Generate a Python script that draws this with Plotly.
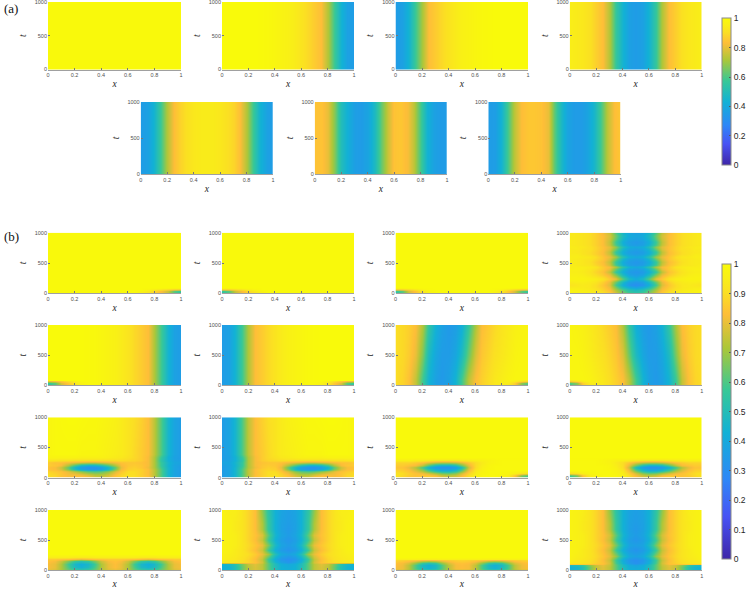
import plotly.graph_objects as go

W, H = 747, 589
x_grid = [i / 20 for i in range(21)]
x_ticks = [0, 0.2, 0.4, 0.6, 0.8, 1]
x_ticktext = ["0", "0.2", "0.4", "0.6", "0.8", "1"]
t_ticks = [0, 500, 1000]
t_ticktext = ["0", "500", "1000"]
cb_a_ticks = [0, 0.2, 0.4, 0.6, 0.8, 1]
cb_a_text = ["0", "0.2", "0.4", "0.6", "0.8", "1"]
cb_b_ticks = [0, 0.1, 0.2, 0.3, 0.4, 0.5, 0.6, 0.7, 0.8, 0.9, 1]
cb_b_text = ["0", "0.1", "0.2", "0.3", "0.4", "0.5", "0.6", "0.7", "0.8", "0.9", "1"]

parula = [[0, "rgb(62,38,168)"], [1/7, "rgb(72,82,244)"], [0.27, "rgb(46,135,247)"],
          [3/7, "rgb(18,177,214)"], [4/7, "rgb(55,200,151)"], [5/7, "rgb(171,199,57)"],
          [0.83, "rgb(254,190,56)"], [0.9, "rgb(251,222,36)"], [0.95, "rgb(249,238,24)"],
          [1, "rgb(249,250,10)"]]

# ---- values; rows are x = 0 ... 1 in steps of 0.05 ----
t_steady = [0, 1000]
flat = [0.995] * 21
a2 = [1, 1, 1, 1, 1, 1, .995, .99, .98, .97, .96, .94, .92, .89, .86, .83, .72, .58, .44, .37, .35]
a4 = [.95, .94, .93, .91, .87, .83, .72, .56, .44, .37, .35, .37, .44, .56, .72, .83, .87, .91, .93, .94, .95]
a5 = [.35, .37, .44, .58, .72, .83, .88, .91, .93, .94, .94, .94, .93, .91, .88, .83, .72, .58, .44, .37, .35]
a6 = [.84, .84, .80, .66, .50, .42, .36, .35, .38, .48, .62, .76, .84, .85, .82, .74, .58, .44, .37, .35, .35]
a7 = [.35, .36, .44, .60, .74, .83, .85, .85, .84, .80, .62, .47, .38, .35, .35, .38, .46, .60, .74, .83, .85]

t_corner = [0, 40, 65, 90, 1000]
b1 = [[.995]*14 + [.96, .92, .87, .82, .74, .60, .54],
      [.995]*14 + [.97, .94, .89, .83, .76, .62, .56],
      [.995]*15 + [.97, .94, .90, .86, .82, .80],
      flat, flat]
b3 = [[.54, .60, .76, .85, .92, .97] + [.995]*9 + [.97, .92, .85, .76, .60, .54],
      [.56, .62, .78, .85, .93, .97] + [.995]*9 + [.97, .93, .85, .78, .62, .56],
      [.80, .82, .86, .91, .96, .99] + [.995]*9 + [.99, .96, .91, .86, .82, .80],
      flat, flat]
b5 = [[.54, .60, .76, .85, .92, .97, .99, .99, .98, .97, .96, .94, .92, .89, .86, .83, .72, .58, .44, .37, .35],
      [.56, .62, .78, .85, .93, .97, .99, .99, .98, .97, .96, .94, .92, .89, .86, .83, .72, .58, .44, .37, .35],
      [.80, .82, .86, .91, .96, .99, .99, .99, .98, .97, .96, .94, .92, .89, .86, .83, .72, .58, .44, .37, .35],
      a2, a2]

t_b7 = [0, 40, 70, 100, 500, 1000]
b7_low = [.90, .88, .84, .75, .58, .44, .37, .34, .37, .44, .58, .74, .83, .87, .90, .93, .95, .97, .98, .98, .98]
b7 = [[.90, .88, .84, .75, .58, .44, .37, .34, .37, .44, .58, .74, .83, .87, .90, .93, .95, .94, .86, .66, .58],
      [.90, .88, .84, .75, .58, .44, .37, .34, .37, .44, .58, .74, .83, .87, .90, .93, .95, .94, .87, .68, .60],
      [.90, .88, .84, .75, .58, .44, .37, .34, .37, .44, .58, .74, .83, .87, .90, .93, .95, .96, .94, .90, .86],
      b7_low,
      [.90, .89, .86, .80, .66, .48, .39, .35, .35, .39, .48, .64, .78, .85, .88, .91, .93, .95, .97, .98, .98],
      [.90, .89, .87, .83, .72, .55, .43, .37, .34, .36, .42, .56, .72, .83, .86, .89, .92, .94, .96, .97, .98]]

t_b9 = [0, 60, 110, 140, 175, 210, 250, 290, 330, 380, 1000]
b9 = [[.90, .88, .84, .82, .84, .86, .84, .78, .76, .80, .85, .88, .91, .90, .87, .83, .74, .60, .45, .38, .35],
      [.90, .88, .85, .82, .82, .80, .76, .72, .72, .76, .83, .88, .91, .90, .87, .83, .74, .60, .45, .38, .35],
      [.88, .86, .84, .80, .74, .68, .62, .60, .62, .68, .78, .85, .90, .90, .87, .83, .74, .60, .45, .38, .35],
      [.84, .83, .78, .66, .50, .40, .35, .34, .37, .48, .66, .82, .87, .88, .87, .83, .74, .60, .45, .38, .35],
      [.84, .82, .76, .62, .44, .35, .30, .31, .35, .45, .62, .80, .86, .87, .85, .81, .72, .58, .45, .38, .35],
      [.86, .85, .82, .72, .58, .47, .43, .44, .50, .60, .72, .82, .85, .86, .85, .82, .72, .56, .44, .38, .36],
      [.86, .84, .84, .82, .80, .78, .76, .76, .78, .80, .82, .84, .85, .85, .84, .82, .72, .56, .45, .39, .38],
      [.92, .92, .91, .91, .90, .90, .90, .90, .90, .90, .90, .90, .89, .88, .86, .82, .72, .54, .43, .38, .36],
      [.97, .97, .97, .97, .97, .96, .96, .96, .96, .95, .94, .93, .91, .89, .86, .82, .72, .56, .43, .37, .35],
      [.98, .99, .99, .99, .99, .98, .98, .98, .97, .96, .95, .94, .92, .89, .86, .83, .74, .60, .45, .38, .35],
      [.98, .99, .995, 1, 1, .995, .99, .99, .98, .97, .96, .94, .92, .90, .87, .83, .74, .60, .45, .38, .35]]

t_b11 = [0, 40, 80, 120, 170, 210, 250, 290, 340, 1000]
b11 = [[.92, .88, .85, .84, .86, .88, .86, .80, .76, .78, .84, .90, .96, .98, .99, .99, .98, .95, .84, .64, .56],
       [.92, .89, .86, .84, .85, .85, .82, .76, .74, .76, .82, .90, .96, .98, .99, .99, .98, .95, .85, .66, .58],
       [.92, .90, .87, .84, .82, .78, .72, .66, .64, .68, .78, .88, .95, .98, .99, .99, .99, .98, .96, .92, .90],
       [.88, .87, .84, .78, .70, .58, .48, .42, .42, .48, .62, .82, .93, .97, .99, .99, .99, .99, .99, .99, .99],
       [.84, .84, .80, .72, .58, .42, .33, .30, .30, .34, .48, .76, .90, .96, .98, .99, .99, .99, .99, .99, .99],
       [.86, .86, .84, .82, .74, .60, .48, .44, .44, .50, .64, .80, .90, .95, .98, .99, .99, .99, .99, .99, .99],
       [.88, .88, .88, .86, .84, .80, .76, .74, .74, .76, .80, .85, .90, .94, .97, .98, .99, .99, .99, .99, .99],
       [.95, .95, .95, .94, .94, .93, .92, .92, .92, .92, .93, .94, .95, .96, .97, .98, .99, .99, .99, .99, .99],
       flat, flat]

# symmetric panels: half rows, x = 0 ... 0.5
t_b4 = [0, 60, 110, 150, 195, 240, 300, 350, 400, 435, 480, 520, 565, 600, 650, 685, 730, 765, 810, 850, 900, 945, 1000]
b4_half = [[.98, .97, .97, .96, .95, .92, .87, .78, .68, .60, .56],
           [.97, .96, .95, .94, .92, .88, .83, .72, .60, .52, .48],
           [.94, .94, .94, .93, .90, .86, .80, .64, .48, .40, .36],
           [.92, .93, .94, .93, .90, .85, .78, .58, .42, .33, .30],
           [.94, .95, .95, .94, .92, .87, .80, .64, .47, .37, .34],
           [.97, .97, .97, .96, .95, .92, .86, .80, .62, .48, .42],
           [.96, .96, .95, .93, .90, .86, .80, .66, .48, .38, .35],
           [.95, .95, .94, .92, .88, .84, .74, .56, .42, .35, .33],
           [.96, .96, .95, .93, .90, .86, .80, .64, .47, .38, .36],
           [.95, .95, .95, .94, .92, .86, .82, .72, .54, .44, .40],
           [.95, .94, .93, .92, .88, .84, .76, .58, .43, .36, .34],
           [.94, .94, .93, .91, .87, .83, .74, .56, .41, .35, .33],
           [.95, .94, .93, .92, .89, .85, .78, .64, .46, .38, .36],
           [.95, .95, .94, .93, .90, .85, .80, .70, .52, .43, .40],
           [.94, .94, .92, .90, .87, .83, .75, .58, .43, .37, .35],
           [.94, .93, .92, .90, .87, .83, .74, .56, .42, .36, .34],
           [.94, .94, .92, .91, .88, .84, .78, .64, .46, .39, .37],
           [.95, .94, .93, .91, .88, .84, .79, .68, .50, .42, .40],
           [.94, .93, .92, .90, .87, .83, .75, .59, .44, .37, .35],
           [.94, .93, .92, .90, .87, .83, .74, .57, .42, .36, .34],
           [.94, .93, .92, .90, .87, .83, .76, .62, .46, .39, .37],
           [.94, .93, .92, .90, .87, .83, .77, .64, .48, .41, .39],
           [.94, .93, .92, .90, .87, .82, .75, .60, .46, .39, .37]]

t_b13 = [0, 50, 100, 150, 190, 225, 270, 1000]
b13_half = [[.80, .78, .72, .64, .58, .55, .58, .64, .72, .78, .80],
            [.82, .80, .72, .60, .48, .44, .48, .60, .72, .80, .83],
            [.82, .80, .72, .58, .46, .42, .46, .58, .72, .80, .83],
            [.84, .82, .76, .66, .56, .52, .56, .66, .76, .82, .84],
            [.86, .86, .85, .84, .82, .80, .82, .84, .85, .86, .86],
            [.95, .95, .95, .95, .94, .94, .94, .95, .95, .95, .95],
            [.995] * 11, [.995] * 11]

t_b15 = [0, 40, 85, 125, 165, 190, 225, 1000]
b15_half = [[.78, .78, .72, .64, .56, .54, .56, .64, .72, .78, .78],
            [.82, .81, .74, .60, .48, .44, .48, .60, .74, .82, .83],
            [.83, .81, .74, .60, .47, .43, .47, .60, .74, .82, .83],
            [.84, .82, .78, .68, .56, .52, .56, .68, .78, .83, .84],
            [.88, .87, .86, .85, .83, .82, .83, .85, .86, .87, .88],
            [.96, .96, .96, .96, .95, .95, .95, .96, .96, .96, .96],
            [.995] * 11, [.995] * 11]

t_b14 = [0, 50, 95, 120, 140, 190, 260, 340, 410, 500, 580, 680, 770, 1000]
b14_half = [[.43, .45, .50, .64, .74, .78, .74, .62, .50, .43, .42],
            [.42, .44, .50, .63, .74, .78, .74, .62, .50, .43, .41],
            [.44, .46, .52, .65, .75, .79, .74, .62, .49, .42, .40],
            [.76, .76, .78, .80, .81, .82, .76, .62, .48, .40, .36],
            [.94, .93, .92, .90, .88, .84, .77, .60, .45, .37, .33],
            [.95, .94, .93, .91, .88, .83, .75, .57, .41, .33, .30],
            [.96, .95, .94, .92, .90, .86, .80, .70, .50, .40, .37],
            [.97, .96, .94, .92, .88, .83, .76, .58, .42, .35, .32],
            [.97, .96, .95, .92, .89, .85, .80, .66, .47, .38, .35],
            [.97, .96, .95, .92, .88, .83, .75, .58, .43, .36, .33],
            [.97, .96, .95, .92, .88, .84, .78, .62, .45, .38, .35],
            [.97, .96, .94, .92, .88, .83, .72, .56, .43, .37, .34],
            [.97, .96, .94, .92, .88, .83, .72, .56, .43, .37, .35],
            [.97, .95, .95, .92, .88, .83, .68, .54, .43, .38, .36]]

t_b16 = [0, 45, 85, 105, 125, 165, 240, 335, 410, 500, 580, 680, 770, 1000]
b16_half = [[.44, .46, .52, .65, .75, .79, .74, .62, .50, .43, .42],
            [.43, .45, .51, .64, .75, .79, .74, .62, .49, .42, .40],
            [.48, .50, .56, .68, .76, .80, .75, .62, .48, .41, .38],
            [.86, .86, .86, .85, .84, .83, .76, .61, .46, .38, .34],
            [.94, .93, .92, .90, .87, .84, .77, .59, .43, .35, .31],
            [.96, .94, .93, .91, .88, .83, .75, .57, .41, .33, .30],
            [.97, .95, .94, .92, .89, .85, .79, .68, .49, .40, .37],
            [.97, .96, .94, .92, .88, .83, .75, .57, .42, .35, .32],
            [.97, .96, .95, .92, .89, .85, .79, .65, .47, .38, .36],
            [.97, .96, .95, .92, .88, .83, .75, .58, .43, .36, .33],
            [.97, .96, .95, .92, .88, .84, .77, .62, .45, .38, .35],
            [.97, .96, .94, .92, .88, .83, .72, .56, .43, .37, .34],
            [.97, .96, .94, .92, .88, .83, .72, .56, .43, .37, .35],
            [.97, .96, .95, .92, .88, .83, .68, .54, .43, .38, .36]]


def sym(rows):
    return [r + r[-2::-1] for r in rows]


def flip(rows):
    return [r[::-1] for r in rows]


rows_a = (2, 69.5)
rows_a2 = (102, 174)
rows_b = [(232.7, 293.3), (325, 385.3), (417.3, 477.7), (510, 570)]
cols = [(48, 181), (222, 354), (395.5, 528), (569.7, 701.7)]
cols2 = [(140.7, 273), (314.7, 447), (488.3, 620.7)]

panels = [
    (cols[0], rows_a, t_steady, [flat, flat], "coloraxis"),
    (cols[1], rows_a, t_steady, [a2, a2], "coloraxis"),
    (cols[2], rows_a, t_steady, flip([a2, a2]), "coloraxis"),
    (cols[3], rows_a, t_steady, [a4, a4], "coloraxis"),
    (cols2[0], rows_a2, t_steady, [a5, a5], "coloraxis"),
    (cols2[1], rows_a2, t_steady, [a6, a6], "coloraxis"),
    (cols2[2], rows_a2, t_steady, [a7, a7], "coloraxis"),
    (cols[0], rows_b[0], t_corner, b1, "coloraxis2"),
    (cols[1], rows_b[0], t_corner, flip(b1), "coloraxis2"),
    (cols[2], rows_b[0], t_corner, b3, "coloraxis2"),
    (cols[3], rows_b[0], t_b4, sym(b4_half), "coloraxis2"),
    (cols[0], rows_b[1], t_corner, b5, "coloraxis2"),
    (cols[1], rows_b[1], t_corner, flip(b5), "coloraxis2"),
    (cols[2], rows_b[1], t_b7, b7, "coloraxis2"),
    (cols[3], rows_b[1], t_b7, flip(b7), "coloraxis2"),
    (cols[0], rows_b[2], t_b9, b9, "coloraxis2"),
    (cols[1], rows_b[2], t_b9, flip(b9), "coloraxis2"),
    (cols[2], rows_b[2], t_b11, b11, "coloraxis2"),
    (cols[3], rows_b[2], t_b11, flip(b11), "coloraxis2"),
    (cols[0], rows_b[3], t_b13, sym(b13_half), "coloraxis2"),
    (cols[1], rows_b[3], t_b14, sym(b14_half), "coloraxis2"),
    (cols[2], rows_b[3], t_b15, sym(b15_half), "coloraxis2"),
    (cols[3], rows_b[3], t_b16, sym(b16_half), "coloraxis2"),
]

fig = go.Figure()
layout = {}
tick_font = dict(family="Liberation Sans", size=5.5, color="#505050")
title_font = dict(family="Liberation Serif", size=9.5, color="#262626")
for i, (cx, ry, tv, z, cax) in enumerate(panels, start=1):
    sfx = "" if i == 1 else str(i)
    fig.add_trace(go.Heatmap(x=x_grid, y=tv, z=z, coloraxis=cax, zsmooth="best",
                             xaxis="x" + sfx, yaxis="y" + sfx))
    layout["xaxis" + sfx] = dict(
        domain=[cx[0] / W, cx[1] / W], anchor="y" + sfx, range=[0, 1], automargin=False,
        tickvals=x_ticks, ticktext=x_ticktext, ticks="inside", ticklen=2, tickwidth=0.5,
        tickcolor="#777777", tickfont=tick_font, showgrid=False, zeroline=False,
        ticklabeloverflow="allow",
        showline=True, linecolor="#a0a0a0", linewidth=1,
        title=dict(text="<i>x</i>", font=title_font, standoff=3))
    layout["yaxis" + sfx] = dict(
        domain=[1 - ry[1] / H, 1 - ry[0] / H], anchor="x" + sfx, range=[0, 1000], automargin=False,
        tickvals=t_ticks, ticktext=t_ticktext, ticks="inside", ticklen=2, tickwidth=0.5,
        tickcolor="#777777", tickfont=tick_font, showgrid=False, zeroline=False,
        ticklabeloverflow="allow", showline=False,
        title=dict(text="<i>t</i>", font=title_font, standoff=6))

cb_font = dict(family="Liberation Sans", size=8.5, color="#262626")
layout["coloraxis"] = dict(
    cmin=0, cmax=1, colorscale=parula,
    colorbar=dict(x=722 / W, xanchor="left", y=1 - 18.3 / H, yanchor="top",
                  lenmode="pixels", len=147, thicknessmode="pixels", thickness=8.6,
                  xpad=0, ypad=0, tickvals=cb_a_ticks, ticktext=cb_a_text, ticks="inside",
                  ticklen=2, tickcolor="#555555", outlinecolor="#8a8a8a", outlinewidth=1,
                  tickfont=cb_font))
layout["coloraxis2"] = dict(
    cmin=0, cmax=1, colorscale=parula,
    colorbar=dict(x=722 / W, xanchor="left", y=1 - 264.3 / H, yanchor="top",
                  lenmode="pixels", len=295, thicknessmode="pixels", thickness=8.6,
                  xpad=0, ypad=0, tickvals=cb_b_ticks, ticktext=cb_b_text, ticks="inside",
                  ticklen=2, tickcolor="#555555", outlinecolor="#8a8a8a", outlinewidth=1,
                  tickfont=cb_font))

fig.update_layout(width=W, height=H, margin=dict(l=0, r=0, t=0, b=0, autoexpand=False),
                  paper_bgcolor="white", plot_bgcolor="white", **layout)
for label, py in (("(a)", 8), ("(b)", 236)):
    fig.add_annotation(text=label, x=2 / W, y=1 - py / H, xref="paper", yref="paper",
                       xanchor="left", yanchor="middle", showarrow=False,
                       font=dict(family="Liberation Serif", size=13, color="#111111"))

fig.write_html("out.html", config={"displayModeBar": False},
               post_script="document.body.style.margin='0';")
